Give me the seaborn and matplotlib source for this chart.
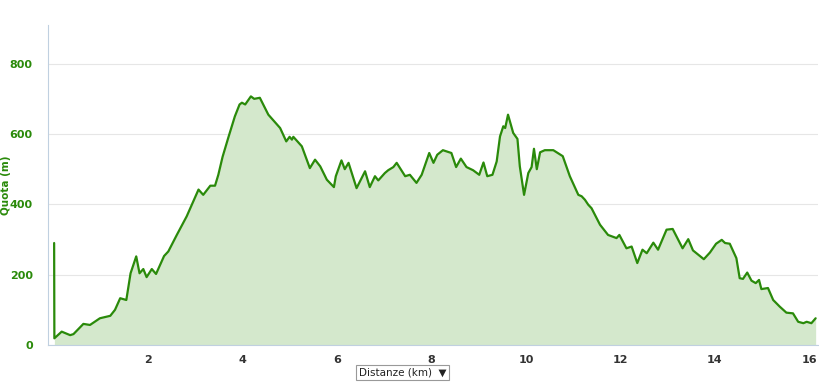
import numpy as np
import pandas as pd
import seaborn as sns
import matplotlib.pyplot as plt

# elevation profile
distanza_km = [0.0, 0.005, 0.16, 0.34, 0.41, 0.62, 0.76, 0.97, 1.19, 1.29, 1.40, 1.53, 1.62, 1.74,
               1.81, 1.89, 1.96, 2.07, 2.16, 2.33, 2.42, 2.60, 2.81, 3.06, 3.16, 3.31, 3.41, 3.48,
               3.57, 3.69, 3.83, 3.93, 3.98, 4.05, 4.17, 4.24, 4.36, 4.54, 4.79, 4.92, 4.99, 5.04,
               5.07, 5.25, 5.42, 5.53, 5.64, 5.78, 5.93, 5.97, 6.09, 6.16, 6.24, 6.41, 6.59, 6.69,
               6.80, 6.87, 7.01, 7.08, 7.19, 7.26, 7.33, 7.44, 7.54, 7.68, 7.79, 7.95, 8.04, 8.12,
               8.24, 8.42, 8.52, 8.62, 8.74, 8.88, 9.01, 9.10, 9.18, 9.29, 9.38, 9.45, 9.52, 9.56,
               9.62, 9.73, 9.82, 9.87, 9.96, 10.05, 10.12, 10.17, 10.23, 10.30, 10.40, 10.58, 10.78,
               10.93, 11.11, 11.18, 11.25, 11.32, 11.39, 11.57, 11.74, 11.92, 11.98, 12.13, 12.24,
               12.36, 12.47, 12.56, 12.70, 12.80, 12.98, 13.11, 13.32, 13.44, 13.54, 13.77, 13.90,
               14.03, 14.15, 14.22, 14.32, 14.46, 14.53, 14.60, 14.69, 14.78, 14.87, 14.94, 14.99,
               15.13, 15.24, 15.38, 15.52, 15.66, 15.77, 15.88, 15.95, 16.05, 16.14]
quota_m = [290, 19, 38, 28, 31, 60, 57, 76, 83, 100, 133, 128, 204, 252,
           204, 216, 193, 216, 202, 253, 266, 313, 366, 442, 427, 453, 453, 484,
           535, 589, 650, 684, 689, 684, 707, 700, 703, 655, 617, 579, 592, 584,
           592, 565, 503, 527, 508, 470, 449, 480, 525, 500, 518, 446, 494, 449,
           480, 468, 489, 497, 506, 518, 503, 480, 484, 461, 484, 546, 518, 541,
           554, 546, 506, 530, 506, 497, 484, 519, 480, 484, 522, 593, 622, 617,
           655, 603, 586, 508, 427, 489, 506, 558, 500, 548, 554, 554, 537,
           480, 427, 423, 413, 399, 389, 342, 313, 304, 313, 275, 280,
           233, 271, 261, 291, 271, 328, 330, 275, 301, 269, 244, 263,
           288, 299, 290, 288, 247, 190, 188, 206, 183, 176, 185, 159,
           162, 128, 109, 92, 90, 66, 62, 66, 62, 76]
y_ticks = [0, 200, 400, 600, 800]
x_ticks = [2, 4, 6, 8, 10, 12, 14, 16]

df = pd.DataFrame({'km': distanza_km, 'quota': quota_m})

sns.set_style('white')
fig = plt.figure(figsize=(8.2, 3.9), dpi=100)
ax = fig.add_axes([48 / 820, 45 / 390, 770 / 820, 320 / 390])

ax.fill_between(df['km'][1:], df['quota'][1:], color='#d4e8cc', linewidth=0)
sns.lineplot(data=df, x='km', y='quota', ax=ax, color='#2a8a0a', linewidth=1.6, sort=False)

ax.set_xlim(-0.13, 16.19)
ax.set_ylim(0, 910)
ax.set_yticks(y_ticks)
ax.set_xticks(x_ticks)
ax.yaxis.grid(True, color='#e6e6e6', linewidth=0.8)
ax.set_axisbelow(True)
for s in ['top', 'right']:
    ax.spines[s].set_visible(False)
for s in ['left', 'bottom']:
    ax.spines[s].set_color('#c0d0e0')
ax.tick_params(axis='y', length=5, color='#c0d0e0', labelcolor='#2a8a0a', labelsize=8, pad=6)
ax.tick_params(axis='x', length=4, color='#c0d0e0', labelcolor='#333333', labelsize=8, pad=3)
for lbl in ax.get_xticklabels() + ax.get_yticklabels():
    lbl.set_fontweight('bold')

ax.set_xlabel('')
ax.set_ylabel('Quota (m)', color='#2a8a0a', fontsize=7.5, fontweight='bold')
ax.yaxis.set_label_coords(-0.048, 0.5)

fig.text(0.491, 0.044, 'Distanze (km)  ▼', ha='center', va='center', fontsize=7.5, color='#222222',
         bbox=dict(boxstyle='square,pad=0.25', facecolor='white', edgecolor='#999999', linewidth=0.8))

fig.savefig('out.png', dpi=100)
